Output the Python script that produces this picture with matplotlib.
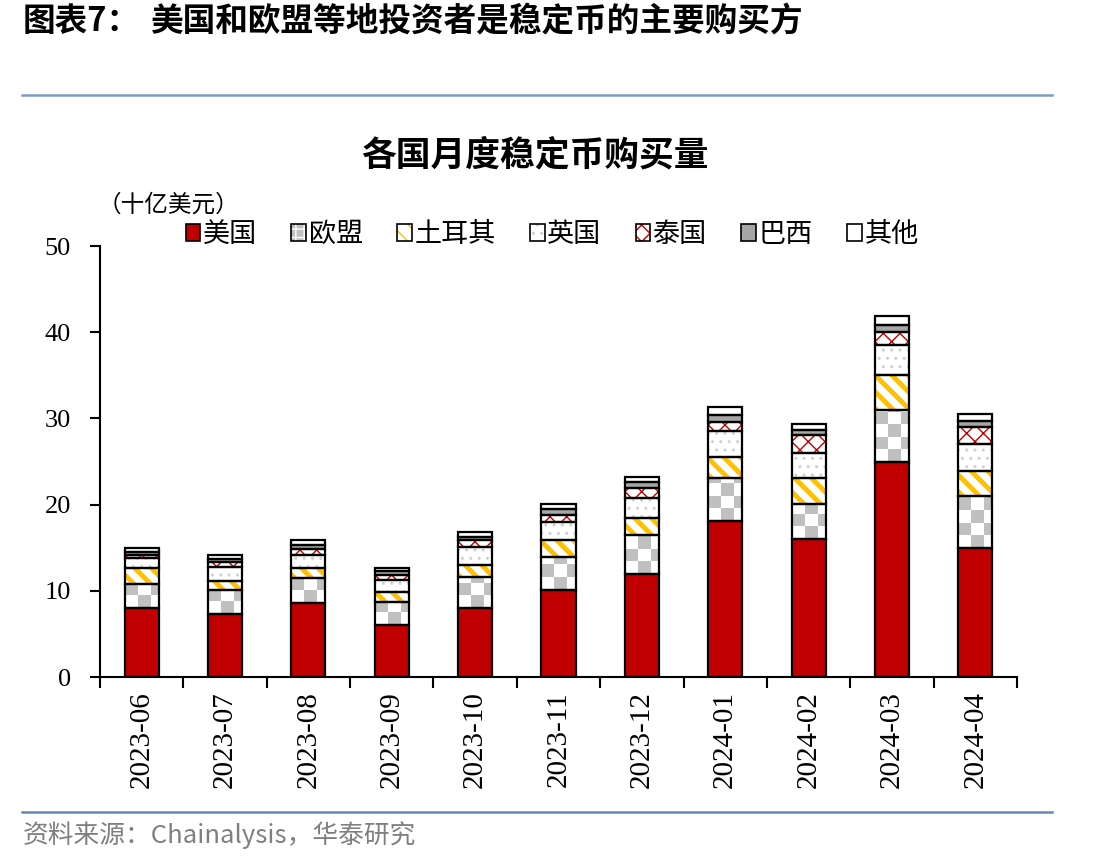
import numpy as np
import matplotlib.pyplot as plt
from matplotlib.colors import ListedColormap
from matplotlib.patches import Patch
from matplotlib.lines import Line2D
from matplotlib.legend_handler import HandlerTuple

plt.rcParams['font.family'] = ['Noto Sans CJK SC', 'DejaVu Sans']

# data (billion USD)
months = ['2023-06', '2023-07', '2023-08', '2023-09', '2023-10', '2023-11',
          '2023-12', '2024-01', '2024-02', '2024-03', '2024-04']
us       = [8.0, 7.3, 8.55, 6.0, 8.0, 10.1, 12.0, 18.1, 16.0, 25.0, 15.0]
eu       = [2.75, 2.85, 2.95, 2.7, 3.55, 3.85, 4.5, 4.95, 4.1, 6.0, 5.95]
turkey   = [1.95, 1.0, 1.2, 1.15, 1.5, 1.95, 1.95, 2.5, 3.0, 4.05, 2.95]
uk       = [1.1, 1.6, 1.45, 1.45, 2.0, 2.1, 2.35, 2.95, 2.9, 3.5, 3.1]
thailand = [0.35, 0.6, 0.65, 0.55, 0.85, 0.8, 1.15, 1.1, 2.05, 1.45, 1.95]
brazil   = [0.3, 0.4, 0.5, 0.4, 0.4, 0.65, 0.65, 0.8, 0.65, 0.85, 0.75]
other    = [0.5, 0.45, 0.6, 0.45, 0.5, 0.6, 0.65, 0.9, 0.7, 1.0, 0.8]
names = ['美国', '欧盟', '土耳其', '英国', '泰国', '巴西', '其他']
series = [us, eu, turkey, uk, thailand, brazil, other]

# style per series: face, hatch colour, hatch
styles = [('#c00000', '#c00000', None),
          ('white', 'white', None),          # checkerboard drawn as image
          ('white', '#ffc000', '\\\\'),
          ('white', '#d0d0d0', '..'),
          ('white', '#c00000', 'xx'),
          ('#a6a6a6', '#a6a6a6', None),
          ('white', 'white', None)]
hatch_lw = [1, 1, 3.5, 1, 1.0, 1, 1]

fig = plt.figure(figsize=(11.12, 8.66), dpi=100)
ax = fig.add_axes([0.0899, 0.2182, 0.8247, 0.4977])
ax.set_xlim(-0.5, len(months) - 0.5)
ax.set_ylim(0, 50)

x = np.arange(len(months))
w = 0.41
bottom = np.zeros(len(months))
handles = []
checker_cmap = ListedColormap(['white', '#c0c0c0'])
for i, (vals, (fc, hc, h)) in enumerate(zip(series, styles)):
    vals = np.array(vals)
    with plt.rc_context({'hatch.linewidth': hatch_lw[i]}):
        base = ax.bar(x, vals, w, bottom=bottom, color=fc, edgecolor=hc,
                      linewidth=0, hatch=h, zorder=2)
        hp = Patch(facecolor=fc, edgecolor=hc, linewidth=0, hatch=h)
    ax.bar(x, vals, w, bottom=bottom, fill=False, edgecolor='black',
           linewidth=1.6, zorder=4)
    if i == 1:
        # checkerboard for EU
        py = ax.transData.transform((0, 1))[1] - ax.transData.transform((0, 0))[1]
        for r in base:
            cw = r.get_width() / 2.7
            ch = 12.5 / py
            nr = int(np.ceil(r.get_height() / ch)) + 1
            arr = np.indices((nr, 3)).sum(axis=0) % 2
            im = ax.imshow(arr, cmap=checker_cmap, origin='lower', aspect='auto',
                           interpolation='nearest', zorder=3,
                           extent=[r.get_x(), r.get_x() + 3 * cw,
                                   r.get_y(), r.get_y() + nr * ch])
            im.set_clip_path(r)
        hp = Patch(facecolor='#c0c0c0', edgecolor='white', linewidth=0, hatch='++')
    op = Patch(facecolor='none', edgecolor='black', linewidth=1.2)
    handles.append((hp, op))
    bottom += vals

ax.set_xlim(-0.5, len(months) - 0.5)
ax.set_ylim(0, 50)

for s in ['top', 'right']:
    ax.spines[s].set_visible(False)
for s in ['left', 'bottom']:
    ax.spines[s].set_linewidth(1.5)

ax.set_yticks([0, 10, 20, 30, 40, 50])
ax.tick_params(axis='y', direction='out', length=7, width=1.5, pad=14)
ax.set_xticks(np.arange(-0.5, len(months)), labels=[])
ax.tick_params(axis='x', which='major', direction='out', length=8, width=1.5)
ax.set_xticks(x, labels=months, minor=True)
ax.tick_params(axis='x', which='minor', length=0, pad=10)
for lab in ax.get_xticklabels(minor=True):
    lab.set_rotation(90)
    lab.set_family('Liberation Serif')
    lab.set_fontsize(21)
for lab in ax.get_yticklabels():
    lab.set_family('Liberation Serif')
    lab.set_fontsize(19)

leg = fig.legend(handles, names, loc='center left', bbox_to_anchor=(172 / 1112, 0.729),
                 ncol=7, frameon=False, fontsize=19.5, handlelength=0.55,
                 handleheight=0.55, handletextpad=0.1, columnspacing=1.25,
                 borderpad=0, handler_map={tuple: HandlerTuple(ndivide=1)})

fig.text(0.02, 1 - 22 / 866, '图表7：', fontsize=23.5, fontweight='bold',
         va='center', ha='left')
fig.text(150 / 1112, 1 - 22 / 866, '美国和欧盟等地投资者是稳定币的主要购买方',
         fontsize=23.5, fontweight='bold', va='center', ha='left')
fig.add_artist(Line2D([22 / 1112, 1052 / 1112], [1 - 95 / 866] * 2,
                      color='#7f9cc4', linewidth=1.8))
fig.text(535 / 1112, 1 - 155 / 866, '各国月度稳定币购买量', fontsize=25,
         fontweight='bold', va='center', ha='center')
fig.text(0.088, 1 - 205 / 866, '（十亿美元）', fontsize=17, va='center', ha='left')
fig.add_artist(Line2D([22 / 1112, 1052 / 1112], [1 - 812 / 866] * 2,
                      color='#6688b4', linewidth=1.8))
fig.text(0.02, 1 - 835 / 866, '资料来源：Chainalysis，华泰研究', fontsize=18.5,
         color='#7f7f7f', va='center', ha='left')

fig.savefig('out.png', dpi=100)
